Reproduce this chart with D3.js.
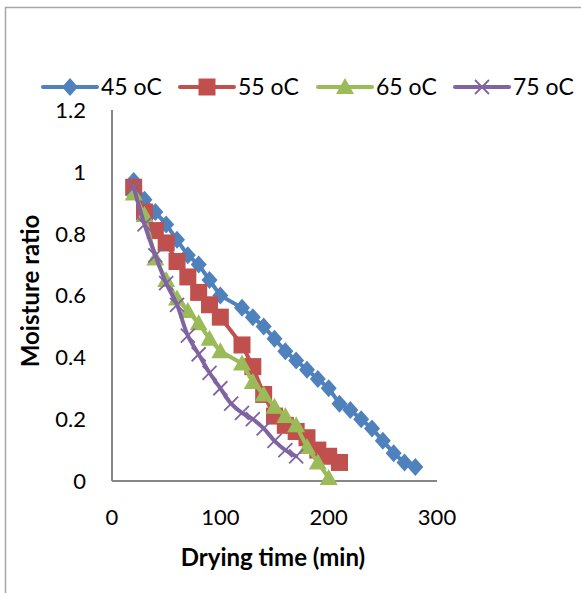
<!DOCTYPE html>
<html>
<head>
<meta charset="utf-8">
<script src="https://cdn.jsdelivr.net/npm/d3@7"></script>
<style>
  body { margin: 0; background: #fff; }
  svg { display: block; }
  text { font-family: Lato, "Open Sans", sans-serif; fill: #000; }
</style>
</head>
<body>
<div id="chart"></div>
<script>
// drying curves, moisture ratio vs drying time
const seriesNames = ["45 oC", "55 oC", "65 oC", "75 oC"];
const seriesColors = ["#4F81BD", "#C0504D", "#9BBB59", "#8064A2"];

const time45 = [20, 30, 40, 50, 60, 70, 80, 90, 100, 120, 130, 140, 150, 160, 170, 180, 190, 200, 210, 220, 230, 240, 250, 260, 270, 280];
const mr45 = [0.97, 0.91, 0.87, 0.83, 0.78, 0.73, 0.70, 0.65, 0.60, 0.56, 0.53, 0.50, 0.46, 0.42, 0.39, 0.36, 0.33, 0.30, 0.25, 0.23, 0.20, 0.17, 0.13, 0.09, 0.06, 0.045];

const time55 = [20, 30, 40, 50, 60, 70, 80, 90, 100, 120, 130, 140, 150, 160, 170, 180, 190, 200, 210];
const mr55 = [0.95, 0.87, 0.81, 0.77, 0.71, 0.66, 0.61, 0.57, 0.53, 0.44, 0.37, 0.28, 0.21, 0.18, 0.16, 0.14, 0.10, 0.08, 0.06];

const time65 = [20, 30, 40, 50, 60, 70, 80, 90, 100, 120, 130, 140, 150, 160, 170, 180, 190, 200];
const mr65 = [0.93, 0.86, 0.72, 0.65, 0.59, 0.55, 0.51, 0.46, 0.42, 0.38, 0.32, 0.28, 0.24, 0.21, 0.18, 0.11, 0.06, 0.01];

const time75 = [20, 30, 40, 50, 60, 70, 80, 90, 100, 110, 120, 130, 140, 150, 160, 170];
const mr75 = [0.95, 0.83, 0.73, 0.64, 0.57, 0.47, 0.41, 0.35, 0.30, 0.25, 0.22, 0.20, 0.17, 0.13, 0.10, 0.08];

const xTicks = [0, 100, 200, 300];
const yTicks = [0, 0.2, 0.4, 0.6, 0.8, 1, 1.2];

const W = 581, H = 593;

const svg = d3.select("#chart").append("svg")
  .attr("width", W)
  .attr("height", H);

// chart frame
svg.append("rect")
  .attr("x", 5.5).attr("y", 7.5)
  .attr("width", 600).attr("height", 600)
  .attr("fill", "none")
  .attr("stroke", "#a6a6a6")
  .attr("stroke-width", 1.5);

const x = d3.scaleLinear().domain([0, 300]).range([112, 437]);
const y = d3.scaleLinear().domain([0, 1.2]).range([481, 110]);

// axes
svg.append("line")
  .attr("x1", x(0)).attr("x2", x(300))
  .attr("y1", y(0)).attr("y2", y(0))
  .attr("stroke", "#868686").attr("stroke-width", 2);
svg.append("line")
  .attr("x1", x(0)).attr("x2", x(0))
  .attr("y1", y(0)).attr("y2", y(1.2))
  .attr("stroke", "#868686").attr("stroke-width", 2);

svg.selectAll(".ytick")
  .data(yTicks)
  .enter()
  .append("text")
  .attr("class", "ytick")
  .attr("x", 86)
  .attr("y", d => y(d))
  .attr("dy", "0.36em")
  .attr("text-anchor", "end")
  .style("font-size", "22px")
  .text(d => d);

svg.selectAll(".xtick")
  .data(xTicks)
  .enter()
  .append("text")
  .attr("class", "xtick")
  .attr("x", d => x(d))
  .attr("y", 525)
  .attr("text-anchor", "middle")
  .style("font-size", "22px")
  .text(d => d);

svg.append("text")
  .attr("x", 273).attr("y", 566)
  .attr("text-anchor", "middle")
  .style("font-size", "24px")
  .style("font-weight", "bold")
  .text("Drying time (min)");

svg.append("text")
  .attr("transform", "translate(39,291) rotate(-90)")
  .attr("text-anchor", "middle")
  .style("font-size", "24px")
  .style("font-weight", "bold")
  .text("Moisture ratio");

// marker shapes
function marker(g, i, color) {
  if (i === 0) {
    g.append("path").attr("d", "M0,-9L8,0L0,9L-8,0Z")
      .attr("fill", color);
  } else if (i === 1) {
    g.append("rect").attr("x", -8.5).attr("y", -8.5).attr("width", 17).attr("height", 17)
      .attr("fill", color);
  } else if (i === 2) {
    g.append("path").attr("d", "M0,-9L9,7L-9,7Z").attr("fill", color);
  } else {
    g.append("path").attr("d", "M-7,-7L7,7M-7,7L7,-7")
      .attr("stroke", color).attr("stroke-width", 1.8).attr("fill", "none");
  }
}

const allSeries = [
  { times: time45, vals: mr45 },
  { times: time55, vals: mr55 },
  { times: time65, vals: mr65 },
  { times: time75, vals: mr75 }
];

allSeries.forEach((s, i) => {
  const pts = s.times.map((t, k) => [t, s.vals[k]]);
  const line = d3.line()
    .x(d => x(d[0]))
    .y(d => y(d[1]))
    .curve(i === 3 ? d3.curveCatmullRom : d3.curveLinear);
  const g = svg.append("g");
  g.append("path")
    .attr("d", line(pts))
    .attr("fill", "none")
    .attr("stroke", seriesColors[i])
    .attr("stroke-width", 4)
    .attr("stroke-linejoin", "round")
    .attr("stroke-linecap", "round");
  pts.forEach(p => {
    const m = g.append("g").attr("transform", "translate(" + x(p[0]) + "," + y(p[1]) + ")");
    marker(m, i, seriesColors[i]);
  });
});

// legend
const legendX = [43, 180, 318, 455];
seriesNames.forEach((name, i) => {
  const lg = svg.append("g").attr("transform", "translate(" + legendX[i] + ",87)");
  lg.append("line")
    .attr("x1", 0).attr("x2", 54)
    .attr("stroke", seriesColors[i]).attr("stroke-width", 4)
    .attr("stroke-linecap", "round");
  marker(lg.append("g").attr("transform", "translate(27,0)"), i, seriesColors[i]);
  lg.append("text")
    .attr("x", 58).attr("dy", "0.36em")
    .style("font-size", "23px")
    .text(name);
});
</script>
</body>
</html>
